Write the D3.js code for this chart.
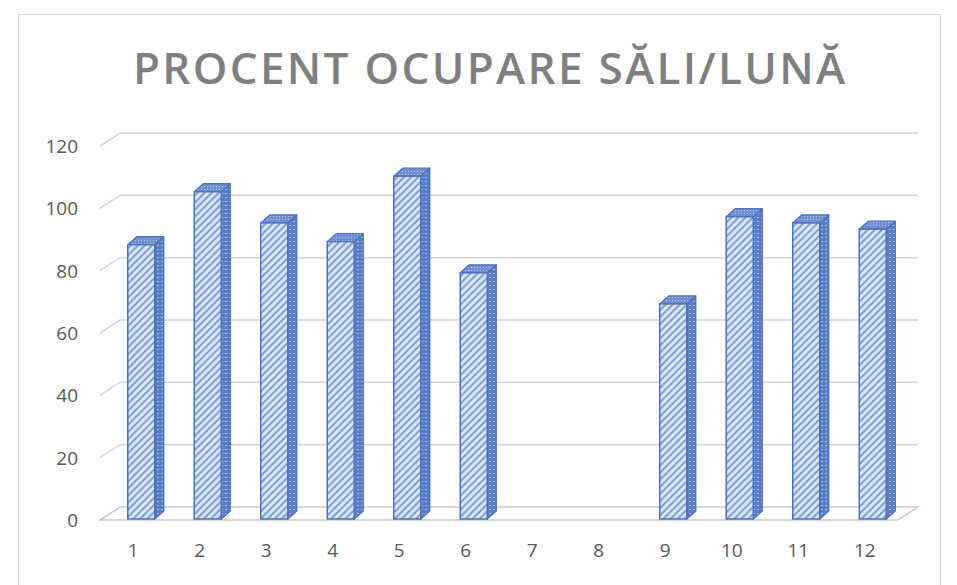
<!DOCTYPE html>
<html>
<head>
<meta charset="utf-8">
<script src="https://cdn.jsdelivr.net/npm/d3@7"></script>
<style>
  body { margin: 0; background: #fff; }
  text { font-family: "Open Sans", "Liberation Sans", sans-serif; }
</style>
</head>
<body>
<div id="chart"></div>
<script>
// data
const months = ["1", "2", "3", "4", "5", "6", "7", "8", "9", "10", "11", "12"];
const occupancy = [88, 105, 95, 89, 110, 79, null, null, 69, 97, 95, 93];
const yTicks = [0, 20, 40, 60, 80, 100, 120];
const title = "PROCENT OCUPARE SĂLI/LUNĂ";

const width = 957, height = 585;
// 3d floor depth
const depthX = 20, depthY = -13;
// bar placement inside the depth
const barOffX = 8, barOffY = -1, barDX = 9, barDY = -8;

const svg = d3.select("#chart").append("svg")
  .attr("width", width)
  .attr("height", height);

const defs = svg.append("defs");

// front face: light blue with diagonal hatch
const pFront = defs.append("pattern")
  .attr("id", "hatchFront")
  .attr("patternUnits", "userSpaceOnUse")
  .attr("width", 5).attr("height", 5)
  .attr("patternTransform", "rotate(45)");
pFront.append("rect").attr("width", 5).attr("height", 5).attr("fill", "#dbe5f6");
pFront.append("rect").attr("width", 2).attr("height", 5).attr("fill", "#7f9fd8");

// side face: darker with horizontal dashes
const pSide = defs.append("pattern")
  .attr("id", "hatchSide")
  .attr("patternUnits", "userSpaceOnUse")
  .attr("width", 4).attr("height", 4);
pSide.append("rect").attr("width", 4).attr("height", 4).attr("fill", "#5a7ec6");
pSide.append("rect").attr("x", 1).attr("y", 1).attr("width", 2).attr("height", 1).attr("fill", "#a9bfe6");

// top face: dotted
const pTop = defs.append("pattern")
  .attr("id", "hatchTop")
  .attr("patternUnits", "userSpaceOnUse")
  .attr("width", 3).attr("height", 3);
pTop.append("rect").attr("width", 3).attr("height", 3).attr("fill", "#6e8fd0");
pTop.append("rect").attr("width", 1).attr("height", 1).attr("fill", "#b8cbee");

// chart frame
svg.append("rect")
  .attr("x", 18.5).attr("y", 14.5)
  .attr("width", 922).attr("height", 620)
  .attr("fill", "none")
  .attr("stroke", "#d9d9d9");

// title
svg.append("text")
  .attr("x", 489).attr("y", 84)
  .attr("text-anchor", "middle")
  .attr("fill", "#7f7f7f")
  .attr("font-size", 44)
  .attr("font-weight", 600)
  .attr("textLength", 712)
  .attr("lengthAdjust", "spacing")
  .text(title);

// scales
const x = d3.scaleBand()
  .domain(months)
  .range([100, 898])
  .padding(0);

const y = d3.scaleLinear()
  .domain([0, 120])
  .range([520, 146]);

// gridlines (side wall diagonal + back wall)
const grid = svg.append("g").attr("class", "grid");
grid.selectAll("path")
  .data(yTicks.filter(d => d > 0))
  .join("path")
  .attr("d", d => `M${x.range()[0]},${y(d)}L${x.range()[0] + depthX},${y(d) + depthY}H${x.range()[1] + depthX}`)
  .attr("fill", "none")
  .attr("stroke", "#d4d4d4")
  .attr("stroke-width", 1.5);

// floor
const x0 = x.range()[0], x1 = x.range()[1];
svg.append("path")
  .attr("d", `M${x0},${y(0)}L${x0 + depthX},${y(0) + depthY}H${x1 + depthX}L${x1},${y(0)}Z`)
  .attr("fill", "#fff")
  .attr("stroke", "#cccccc")
  .attr("stroke-width", 1.5);

// y tick labels
svg.append("g").selectAll("text")
  .data(yTicks)
  .join("text")
  .attr("x", 78)
  .attr("y", d => y(d) + 7)
  .attr("text-anchor", "end")
  .attr("fill", "#595959")
  .attr("font-size", 19)
  .text(d => d);

// x tick labels
svg.append("g").selectAll("text")
  .data(months)
  .join("text")
  .attr("x", d => x(d) + x.bandwidth() / 2)
  .attr("y", 557)
  .attr("text-anchor", "middle")
  .attr("fill", "#595959")
  .attr("font-size", 19)
  .text(d => d);

// bars
const barW = 27;
const bars = svg.append("g").attr("class", "bars")
  .selectAll("g")
  .data(months.map((m, i) => ({ m, v: occupancy[i] })).filter(d => d.v != null))
  .join("g");

const bx = d => x(d.m) + x.bandwidth() / 2 - barW / 2 + barOffX;
const by0 = y(0) + barOffY;
const byt = d => y(d.v) + barOffY;

// side
bars.append("path")
  .attr("d", d => {
    const r = bx(d) + barW;
    return `M${r},${byt(d)}L${r + barDX},${byt(d) + barDY}L${r + barDX},${by0 + barDY}L${r},${by0}Z`;
  })
  .attr("fill", "url(#hatchSide)")
  .attr("stroke", "#4a72c0")
  .attr("stroke-width", 1.3)
  .attr("stroke-linejoin", "round");

// top
bars.append("path")
  .attr("d", d => {
    const l = bx(d), t = byt(d);
    return `M${l},${t}L${l + barDX},${t + barDY}H${l + barW + barDX}L${l + barW},${t}Z`;
  })
  .attr("fill", "url(#hatchTop)")
  .attr("stroke", "#4a72c0")
  .attr("stroke-width", 1.3)
  .attr("stroke-linejoin", "round");

// front
bars.append("rect")
  .attr("x", bx)
  .attr("y", byt)
  .attr("width", barW)
  .attr("height", d => by0 - byt(d))
  .attr("fill", "url(#hatchFront)")
  .attr("stroke", "#4a72c0")
  .attr("stroke-width", 1.5);
</script>
</body>
</html>
